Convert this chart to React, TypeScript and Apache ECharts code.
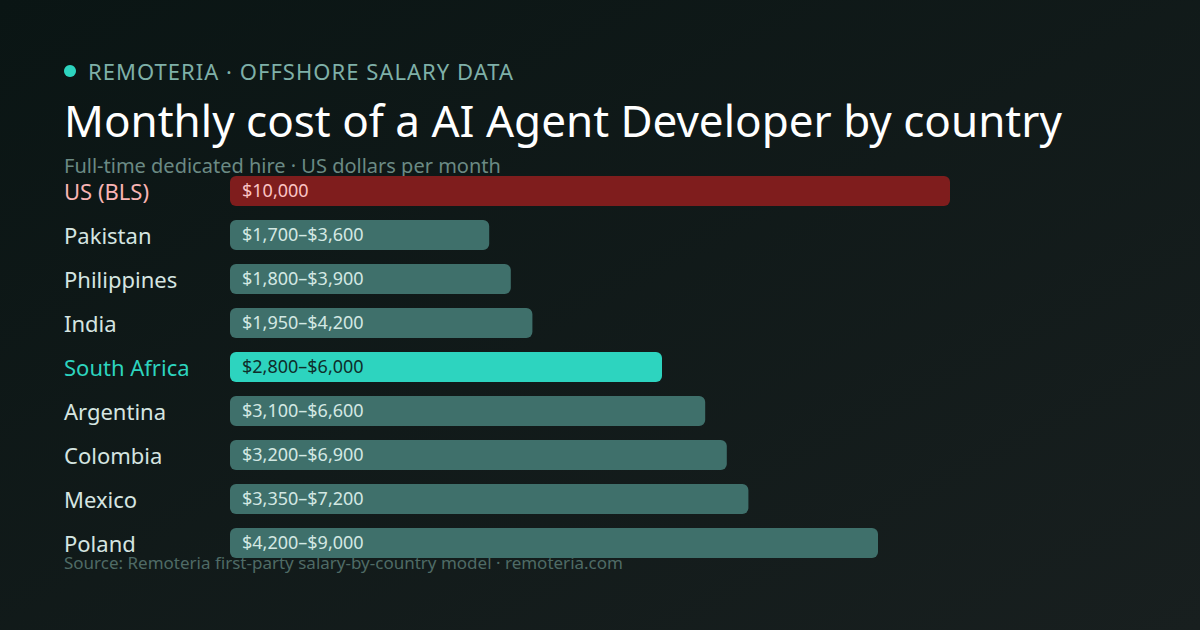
import * as echarts from "echarts";
import { useEffect, useRef } from "react";

const countries = ["US (BLS)", "Pakistan", "Philippines", "India", "South Africa", "Argentina", "Colombia", "Mexico", "Poland"];
const lowValues = [10000, 1700, 1800, 1950, 2800, 3100, 3200, 3350, 4200];
const highValues = [10000, 3600, 3900, 4200, 6000, 6600, 6900, 7200, 9000];

const FONT = "'Noto Sans', sans-serif";
const BENCHMARK = "US (BLS)";
const FEATURED = "South Africa";
const EYEBROW = "REMOTERIA · OFFSHORE SALARY DATA";

const money = (v: number): string => `$${v.toLocaleString("en-US")}`;
const rangeLabel = (i: number): string =>
  lowValues[i] === highValues[i] ? money(highValues[i]) : `${money(lowValues[i])}–${money(highValues[i])}`;

const barColor = (name: string): string =>
  name === BENCHMARK ? "#7f1d1d" : name === FEATURED ? "#2dd4bf" : "#3f706b";
const barTextColor = (name: string): string =>
  name === BENCHMARK ? "#fbc4c4" : name === FEATURED ? "#0f2e2b" : "#d3e8e3";
const axisTextColor = (name: string): string =>
  name === BENCHMARK ? "#f8b4b4" : name === FEATURED ? "#2dd4bf" : "#d5e5e1";

export default function App(): React.ReactElement {
  const containerRef = useRef<HTMLDivElement | null>(null);

  useEffect(() => {
    const target = containerRef.current;
    if (target === null) return;

    const chart = echarts.init(target, null, { renderer: "svg" });

    chart.setOption({
      animation: false,
      backgroundColor: {
        type: "linear",
        x: 0,
        y: 0,
        x2: 1,
        y2: 1,
        colorStops: [
          { offset: 0, color: "#0a1514" },
          { offset: 1, color: "#181f1f" },
        ],
      },
      textStyle: { fontFamily: FONT },
      grid: { left: 230, width: 720, top: 169, height: 396, outerBoundsMode: "none" },
      xAxis: { type: "value", min: 0, max: 10000, show: false },
      yAxis: {
        type: "category",
        inverse: true,
        data: countries,
        axisLine: { show: false },
        axisTick: { show: false },
        splitLine: { show: false },
        axisLabel: {
          align: "left",
          margin: 166,
          fontFamily: FONT,
          fontSize: 22,
          color: (name: string) => axisTextColor(name),
        },
      },
      series: [
        {
          type: "bar",
          barWidth: 30,
          data: countries.map((name, i) => ({
            value: highValues[i],
            itemStyle: { color: barColor(name), borderRadius: 6 },
            label: {
              show: true,
              position: "insideLeft",
              distance: 12,
              offset: [0, -1],
              formatter: rangeLabel(i),
              color: barTextColor(name),
              fontFamily: FONT,
              fontSize: 18,
            },
          })),
        },
      ],
      graphic: [
        { type: "circle", shape: { cx: 70, cy: 71, r: 6 }, style: { fill: "#2dd4bf" } },
        {
          type: "text",
          x: 88,
          y: 71,
          style: {
            text: EYEBROW,
            font: `22px ${FONT}`,
            fill: "#7fb0a8",
            verticalAlign: "middle",
          },
        },
        {
          type: "text",
          x: 64,
          y: 120,
          style: {
            text: "Monthly cost of a AI Agent Developer by country",
            font: `44px ${FONT}`,
            fill: "#ffffff",
            verticalAlign: "middle",
          },
        },
        {
          type: "text",
          x: 64,
          y: 165,
          style: {
            text: "Full-time dedicated hire · US dollars per month",
            font: `20px ${FONT}`,
            fill: "#6b8a84",
            verticalAlign: "middle",
          },
        },
        {
          type: "text",
          x: 64,
          y: 562,
          style: {
            text: "Source: Remoteria first-party salary-by-country model · remoteria.com",
            font: `17px ${FONT}`,
            fill: "#4f6b66",
            verticalAlign: "middle",
          },
        },
      ],
    });

    // echarts has no letter spacing option, set it on the svg text directly
    target.querySelectorAll("text").forEach((node) => {
      if (node.textContent === EYEBROW) node.setAttribute("letter-spacing", "1.03");
    });

    return () => chart.dispose();
  }, []);

  return <div ref={containerRef} style={{ position: "fixed", left: 0, top: 0, width: 1200, height: 630 }} />;
}
